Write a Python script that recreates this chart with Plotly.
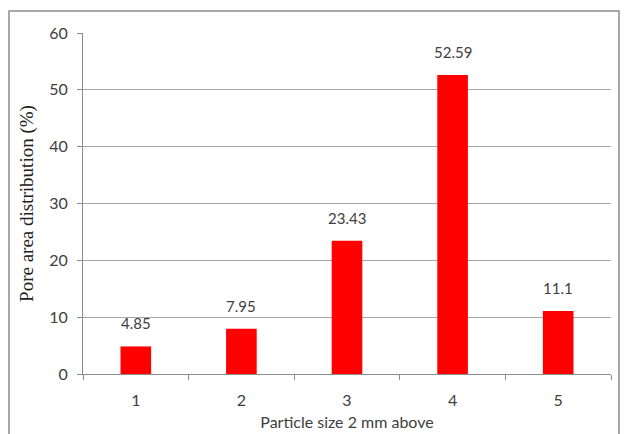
import plotly.graph_objects as go

categories = ["1", "2", "3", "4", "5"]
values = [4.85, 7.95, 23.43, 52.59, 11.1]
labels = ["4.85", "7.95", "23.43", "52.59", "11.1"]

W, H = 624, 434
L, R, T, B = 83, 13, 33, 60
pw, ph = W - L - R, H - T - B

def px_x(px):
    return (px - L) / pw

def px_y(py):
    return (H - B - py) / ph

fig = go.Figure()
fig.add_trace(go.Bar(
    x=categories, y=values,
    marker=dict(color="#ff0000", line=dict(width=0)),
    hoverinfo="x+y",
))

for i, (v, t) in enumerate(zip(values, labels)):
    fig.add_annotation(
        x=i, y=v, text=t, showarrow=False, yanchor="bottom", yshift=12,
        font=dict(family="Lato, Open Sans, sans-serif", size=15, color="#404040"),
    )

grey = "#8c8c8c"
fig.update_layout(
    width=W, height=H,
    margin=dict(l=L, r=R, t=T, b=B, autoexpand=False),
    paper_bgcolor="white", plot_bgcolor="white",
    bargap=0.71,
    showlegend=False,
    font=dict(family="Lato, Open Sans, sans-serif", size=15, color="#595959"),
    xaxis=dict(
        type="category", range=[-0.5, 4.5],
        tickson="boundaries", ticks="outside", ticklen=5, tickcolor=grey,
        showline=True, linecolor=grey, linewidth=1, showgrid=False,
        tickfont=dict(size=16, color="#404040"),
        ticklabelstandoff=12,
        title=dict(text="Particle size 2 mm above", standoff=8,
                   font=dict(family="Lato, Open Sans, sans-serif", size=16, color="#404040")),
        automargin=False, fixedrange=True,
    ),
    yaxis=dict(
        range=[0, 60], dtick=10,
        ticks="outside", ticklen=5, tickcolor=grey,
        showline=True, linecolor=grey, linewidth=1,
        showgrid=True, gridcolor="#a6a6a6", gridwidth=1,
        zeroline=False,
        tickfont=dict(size=16, color="#404040"),
        ticklabelstandoff=6,
        title=dict(text="Pore area distribution (%)", standoff=10,
                   font=dict(family="Liberation Serif, Times New Roman, serif", size=19, color="#202020")),
        automargin=False, fixedrange=True,
    ),
)

# outer chart frame
fig.add_shape(type="rect", xref="paper", yref="paper",
              x0=px_x(9), x1=px_x(619), y0=px_y(445), y1=px_y(11),
              line=dict(color="#8c8c8c", width=1.5), fillcolor="rgba(0,0,0,0)", layer="below")

fig.write_html("out.html")
